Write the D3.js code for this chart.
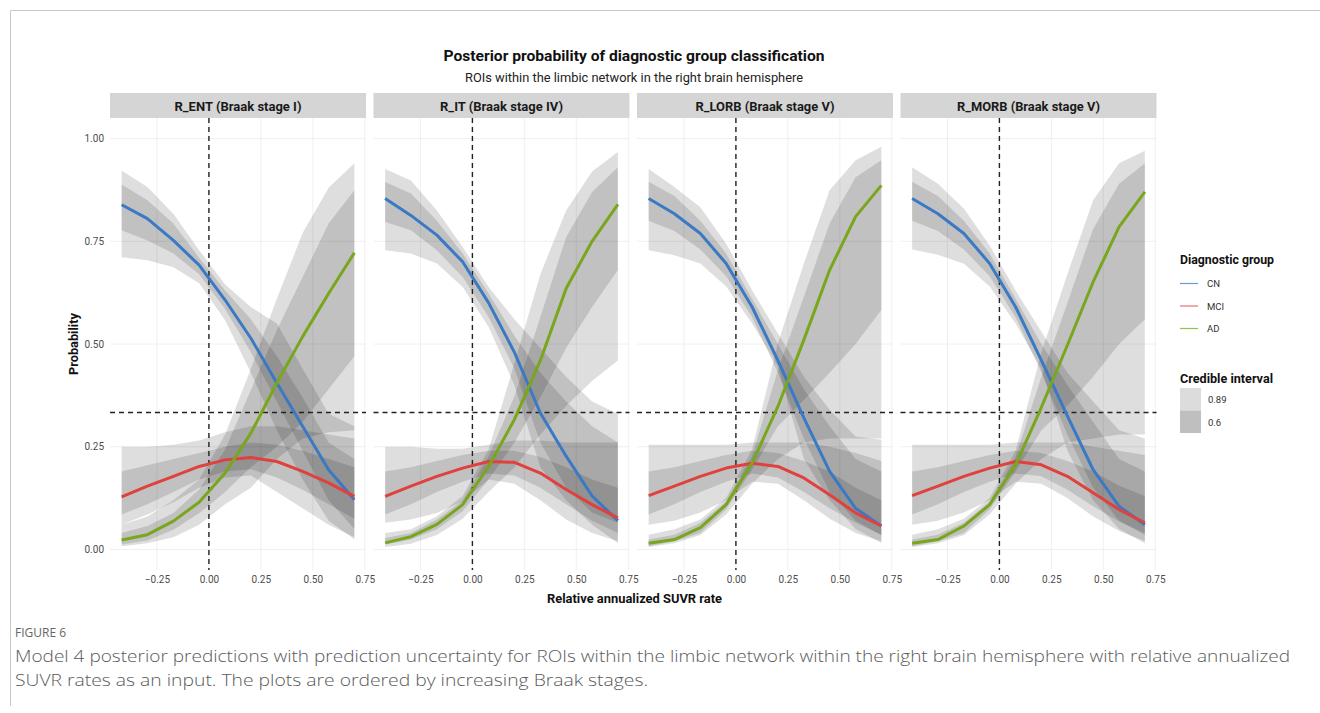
<!DOCTYPE html>
<html>
<head>
<meta charset="utf-8">
<script src="https://cdn.jsdelivr.net/npm/d3@7"></script>
<style>
  html, body { margin: 0; padding: 0; background: #fff; }
  svg { display: block; }
</style>
</head>
<body>
<svg id="chart" width="1320" height="713"></svg>
<script>
// ---------------- DATA ----------------
const xVals = [-0.42, -0.296, -0.171, -0.047, 0.078, 0.202, 0.327, 0.451, 0.576, 0.70];
const panelTitles = ["R_ENT (Braak stage I)", "R_IT (Braak stage IV)", "R_LORB (Braak stage V)", "R_MORB (Braak stage V)"];
const groups = ["CN", "MCI", "AD"];
const ciLevels = ["0.89", "0.6"];
const xTicks = [-0.25, 0, 0.25, 0.5, 0.75];
const yTicks = [0, 0.25, 0.5, 0.75, 1];
const chanceLevel = 1 / 3;
const refX = 0;

// each: [mean, lo89, hi89, lo60, hi60]
const ENT_CN = [
  [0.839, 0.805, 0.752, 0.692, 0.607, 0.514, 0.405, 0.300, 0.194, 0.121],
  [0.711, 0.704, 0.687, 0.648, 0.558, 0.430, 0.290, 0.170, 0.070, 0.025],
  [0.922, 0.882, 0.817, 0.728, 0.645, 0.590, 0.550, 0.440, 0.330, 0.300],
  [0.777, 0.752, 0.720, 0.670, 0.585, 0.480, 0.360, 0.240, 0.120, 0.050],
  [0.888, 0.850, 0.793, 0.710, 0.630, 0.560, 0.470, 0.370, 0.260, 0.220]
];
const ENT_MCI = [
  [0.128, 0.154, 0.178, 0.202, 0.218, 0.224, 0.214, 0.190, 0.162, 0.129],
  [0.060, 0.085, 0.115, 0.150, 0.175, 0.180, 0.140, 0.100, 0.060, 0.030],
  [0.250, 0.250, 0.255, 0.265, 0.285, 0.300, 0.300, 0.290, 0.280, 0.270],
  [0.085, 0.110, 0.140, 0.170, 0.190, 0.195, 0.175, 0.145, 0.110, 0.075],
  [0.190, 0.205, 0.220, 0.235, 0.250, 0.260, 0.255, 0.240, 0.220, 0.200]
];
const ENT_AD = [
  [0.023, 0.036, 0.069, 0.115, 0.186, 0.283, 0.405, 0.518, 0.623, 0.722],
  [0.008, 0.015, 0.030, 0.060, 0.110, 0.150, 0.220, 0.270, 0.285, 0.290],
  [0.060, 0.080, 0.120, 0.170, 0.280, 0.440, 0.610, 0.770, 0.880, 0.940],
  [0.012, 0.022, 0.048, 0.088, 0.140, 0.200, 0.250, 0.310, 0.390, 0.470],
  [0.040, 0.057, 0.089, 0.146, 0.243, 0.388, 0.534, 0.663, 0.793, 0.874]
];

const IT_CN = [
  [0.854, 0.813, 0.765, 0.700, 0.600, 0.480, 0.332, 0.227, 0.130, 0.070],
  [0.728, 0.720, 0.696, 0.639, 0.542, 0.400, 0.200, 0.120, 0.060, 0.016],
  [0.926, 0.898, 0.825, 0.736, 0.639, 0.560, 0.490, 0.420, 0.360, 0.330],
  [0.797, 0.777, 0.728, 0.663, 0.566, 0.440, 0.260, 0.150, 0.090, 0.065],
  [0.894, 0.866, 0.800, 0.720, 0.623, 0.520, 0.430, 0.360, 0.300, 0.260]
];
const IT_MCI = [
  [0.129, 0.154, 0.178, 0.198, 0.214, 0.212, 0.186, 0.146, 0.109, 0.077],
  [0.065, 0.073, 0.089, 0.117, 0.170, 0.160, 0.120, 0.073, 0.040, 0.020],
  [0.250, 0.250, 0.245, 0.245, 0.255, 0.265, 0.265, 0.260, 0.260, 0.260],
  [0.085, 0.110, 0.140, 0.165, 0.185, 0.180, 0.150, 0.110, 0.070, 0.040],
  [0.190, 0.200, 0.215, 0.230, 0.240, 0.240, 0.225, 0.200, 0.170, 0.150]
];
const IT_AD = [
  [0.016, 0.031, 0.061, 0.109, 0.202, 0.316, 0.460, 0.635, 0.750, 0.840],
  [0.006, 0.014, 0.035, 0.075, 0.140, 0.200, 0.280, 0.350, 0.410, 0.460],
  [0.040, 0.049, 0.081, 0.130, 0.243, 0.453, 0.670, 0.825, 0.920, 0.967],
  [0.012, 0.024, 0.049, 0.093, 0.170, 0.260, 0.370, 0.490, 0.590, 0.680],
  [0.028, 0.040, 0.073, 0.120, 0.227, 0.372, 0.566, 0.760, 0.870, 0.930]
];

const LORB_CN = [
  [0.854, 0.817, 0.769, 0.696, 0.590, 0.460, 0.320, 0.190, 0.100, 0.057],
  [0.728, 0.716, 0.696, 0.640, 0.550, 0.445, 0.220, 0.120, 0.050, 0.016],
  [0.926, 0.882, 0.833, 0.744, 0.631, 0.526, 0.420, 0.340, 0.275, 0.267],
  [0.800, 0.775, 0.730, 0.665, 0.565, 0.430, 0.270, 0.140, 0.070, 0.035],
  [0.895, 0.860, 0.800, 0.720, 0.610, 0.500, 0.390, 0.300, 0.220, 0.190]
];
const LORB_MCI = [
  [0.131, 0.154, 0.178, 0.198, 0.210, 0.202, 0.174, 0.133, 0.089, 0.057],
  [0.060, 0.070, 0.090, 0.120, 0.165, 0.160, 0.120, 0.075, 0.040, 0.020],
  [0.255, 0.255, 0.255, 0.255, 0.260, 0.260, 0.260, 0.250, 0.235, 0.215],
  [0.085, 0.110, 0.140, 0.165, 0.185, 0.175, 0.140, 0.100, 0.065, 0.035],
  [0.190, 0.200, 0.215, 0.230, 0.240, 0.235, 0.215, 0.190, 0.150, 0.120]
];
const LORB_AD = [
  [0.015, 0.024, 0.053, 0.109, 0.210, 0.348, 0.510, 0.680, 0.810, 0.886],
  [0.006, 0.015, 0.035, 0.085, 0.160, 0.220, 0.260, 0.270, 0.270, 0.270],
  [0.036, 0.049, 0.073, 0.125, 0.243, 0.502, 0.696, 0.874, 0.947, 0.980],
  [0.008, 0.020, 0.040, 0.097, 0.194, 0.300, 0.364, 0.430, 0.500, 0.583],
  [0.024, 0.036, 0.065, 0.117, 0.227, 0.437, 0.615, 0.793, 0.906, 0.947]
];

const MORB_CN = [
  [0.854, 0.817, 0.769, 0.696, 0.590, 0.460, 0.325, 0.194, 0.105, 0.060],
  [0.730, 0.717, 0.695, 0.640, 0.550, 0.440, 0.240, 0.120, 0.050, 0.015],
  [0.930, 0.890, 0.830, 0.740, 0.630, 0.530, 0.430, 0.360, 0.290, 0.270],
  [0.800, 0.775, 0.730, 0.665, 0.565, 0.430, 0.280, 0.150, 0.070, 0.035],
  [0.895, 0.860, 0.800, 0.720, 0.610, 0.500, 0.400, 0.310, 0.220, 0.190]
];
const MORB_MCI = [
  [0.131, 0.154, 0.178, 0.198, 0.214, 0.206, 0.178, 0.138, 0.097, 0.065],
  [0.060, 0.070, 0.090, 0.120, 0.165, 0.160, 0.125, 0.080, 0.045, 0.020],
  [0.255, 0.255, 0.255, 0.255, 0.260, 0.260, 0.260, 0.250, 0.240, 0.230],
  [0.085, 0.110, 0.140, 0.165, 0.185, 0.178, 0.145, 0.105, 0.068, 0.040],
  [0.190, 0.200, 0.215, 0.230, 0.240, 0.235, 0.215, 0.190, 0.155, 0.130]
];
const MORB_AD = [
  [0.015, 0.024, 0.057, 0.109, 0.206, 0.346, 0.497, 0.651, 0.785, 0.870],
  [0.006, 0.015, 0.035, 0.085, 0.160, 0.220, 0.260, 0.270, 0.280, 0.280],
  [0.036, 0.049, 0.075, 0.125, 0.240, 0.480, 0.670, 0.850, 0.940, 0.970],
  [0.008, 0.020, 0.040, 0.097, 0.190, 0.290, 0.350, 0.420, 0.500, 0.560],
  [0.024, 0.036, 0.065, 0.117, 0.225, 0.420, 0.600, 0.780, 0.890, 0.940]
];

const panelData = [
  [ENT_CN, ENT_MCI, ENT_AD],
  [IT_CN, IT_MCI, IT_AD],
  [LORB_CN, LORB_MCI, LORB_AD],
  [MORB_CN, MORB_MCI, MORB_AD]
];

// ---------------- STYLE / LAYOUT ----------------
const colors = { CN: "#3a79c4", MCI: "#e0413d", AD: "#78a61c" };
const ciFill = { "0.89": 0.13, "0.6": 0.13 };
const font = "Roboto, 'Noto Sans', sans-serif";
const panelX0 = [110, 373.5, 637, 900.5];
const panelW = 256;
const stripTop = 93, stripBottom = 118;
const plotTop = 118, plotBottom = 570;

const svg = d3.select("#chart");

// frame
svg.append("line").attr("x1", 10.5).attr("x2", 1320).attr("y1", 10.5).attr("y2", 10.5)
  .attr("stroke", "#c8c8c8").attr("stroke-width", 1);
svg.append("line").attr("x1", 10.5).attr("x2", 10.5).attr("y1", 10.5).attr("y2", 706)
  .attr("stroke", "#c8c8c8").attr("stroke-width", 1);

// titles
function fitText(sel, w) { return sel.attr("textLength", w).attr("lengthAdjust", "spacingAndGlyphs"); }
fitText(svg.append("text").attr("x", 634).attr("y", 61).attr("text-anchor", "middle")
  .attr("font-family", font).attr("font-weight", "bold").attr("font-size", 15).attr("fill", "#111")
  .text("Posterior probability of diagnostic group classification"), 381);
fitText(svg.append("text").attr("x", 634).attr("y", 81.5).attr("text-anchor", "middle")
  .attr("font-family", font).attr("font-size", 12).attr("fill", "#222")
  .text("ROIs within the limbic network in the right brain hemisphere"), 338);

const y = d3.scaleLinear().domain([-0.05, 1.05]).range([plotBottom, plotTop]);

const stripW = [127, 123, 139, 143];

panelData.forEach((pd, pi) => {
  const x = d3.scaleLinear().domain([-0.476, 0.756]).range([panelX0[pi], panelX0[pi] + panelW]);
  const g = svg.append("g");

  // grid
  g.selectAll(".hg").data(yTicks).join("line")
    .attr("x1", x.range()[0]).attr("x2", x.range()[1])
    .attr("y1", d => y(d)).attr("y2", d => y(d))
    .attr("stroke", "#ececec").attr("stroke-width", 0.8);
  g.selectAll(".vg").data(xTicks).join("line")
    .attr("x1", d => x(d)).attr("x2", d => x(d))
    .attr("y1", plotTop).attr("y2", plotBottom)
    .attr("stroke", "#ececec").attr("stroke-width", 0.8);

  // strip
  g.append("rect").attr("x", x.range()[0]).attr("y", stripTop).attr("width", panelW)
    .attr("height", stripBottom - stripTop).attr("fill", "#d5d5d5");
  fitText(g.append("text").attr("x", x.range()[0] + panelW / 2).attr("y", 110.5)
    .attr("text-anchor", "middle").attr("font-family", font).attr("font-weight", "bold")
    .attr("font-size", 13).attr("fill", "#1a1a1a").text(panelTitles[pi]), stripW[pi]);

  // ribbons
  pd.forEach((s, gi) => {
    const pts = xVals.map((xv, i) => ({ x: xv, m: s[0][i], lo89: s[1][i], hi89: s[2][i], lo60: s[3][i], hi60: s[4][i] }));
    [["lo89", "hi89", "0.89"], ["lo60", "hi60", "0.6"]].forEach(([lo, hi, lvl]) => {
      const area = d3.area().x(d => x(d.x)).y0(d => y(d[lo])).y1(d => y(d[hi]));
      g.append("path").datum(pts).attr("d", area).attr("fill", "#000").attr("fill-opacity", ciFill[lvl]);
    });
  });

  // reference lines
  g.append("line").attr("x1", x.range()[0]).attr("x2", x.range()[1])
    .attr("y1", y(chanceLevel)).attr("y2", y(chanceLevel))
    .attr("stroke", "#222").attr("stroke-width", 1.4).attr("stroke-dasharray", "5,4");
  g.append("line").attr("x1", x(refX)).attr("x2", x(refX))
    .attr("y1", plotTop).attr("y2", plotBottom)
    .attr("stroke", "#222").attr("stroke-width", 1.4).attr("stroke-dasharray", "5,4");

  // lines
  pd.forEach((s, gi) => {
    const pts = xVals.map((xv, i) => ({ x: xv, m: s[0][i] }));
    const line = d3.line().x(d => x(d.x)).y(d => y(d.m));
    g.append("path").datum(pts).attr("d", line).attr("fill", "none")
      .attr("stroke", colors[groups[gi]]).attr("stroke-width", 3).attr("stroke-linejoin", "round");
  });

  // x tick labels
  const xAxis = d3.axisBottom(x).tickValues(xTicks).tickFormat(d3.format(".2f")).tickSize(0).tickPadding(0);
  const ax = g.append("g").attr("transform", `translate(0, ${plotBottom + 6})`).call(xAxis);
  ax.select(".domain").remove();
  ax.selectAll("text").attr("font-family", font).attr("font-size", 10).attr("fill", "#4d4d4d");

  if (pi === 0) {
    const yAxis = d3.axisLeft(y).tickValues(yTicks).tickFormat(d3.format(".2f")).tickSize(0).tickPadding(0);
    const ay = g.append("g").attr("transform", `translate(${x.range()[0] - 6}, 0)`).call(yAxis);
    ay.select(".domain").remove();
    ay.selectAll("text").attr("font-family", font).attr("font-size", 10).attr("fill", "#4d4d4d");
  }
});

// axis titles
fitText(svg.append("text").attr("x", 634.5).attr("y", 603).attr("text-anchor", "middle")
  .attr("font-family", font).attr("font-weight", "bold").attr("font-size", 13).attr("fill", "#111")
  .text("Relative annualized SUVR rate"), 175);
fitText(svg.append("text").attr("transform", "translate(77.5, 344) rotate(-90)").attr("text-anchor", "middle")
  .attr("font-family", font).attr("font-weight", "bold").attr("font-size", 13).attr("fill", "#111")
  .text("Probability"), 62);

// legend
const lg = svg.append("g");
fitText(lg.append("text").attr("x", 1180).attr("y", 264).attr("font-family", font).attr("font-weight", "bold")
  .attr("font-size", 13).attr("fill", "#111").text("Diagnostic group"), 94);
groups.forEach((gname, i) => {
  const yy = 283.5 + i * 22.5;
  lg.append("line").attr("x1", 1180).attr("x2", 1198).attr("y1", yy).attr("y2", yy)
    .attr("stroke", colors[gname]).attr("stroke-width", 1.2).attr("stroke-opacity", 0.75);
  lg.append("text").attr("x", 1207).attr("y", yy + 3.5).attr("font-family", font)
    .attr("font-size", 9.5).attr("fill", "#333").text(gname);
});
fitText(lg.append("text").attr("x", 1180).attr("y", 383).attr("font-family", font).attr("font-weight", "bold")
  .attr("font-size", 13).attr("fill", "#111").text("Credible interval"), 93);
ciLevels.forEach((lvl, i) => {
  const yy = 388 + i * 22.5;
  lg.append("rect").attr("x", 1180).attr("y", yy).attr("width", 21).attr("height", 22.5)
    .attr("fill", i === 0 ? "#dcdcdc" : "#bfbfbf");
  lg.append("text").attr("x", 1208).attr("y", yy + 15).attr("font-family", font)
    .attr("font-size", 9.5).attr("fill", "#333").text(lvl);
});

// caption
const capFont = "'Open Sans', 'Noto Sans', sans-serif";
svg.append("text").attr("x", 15).attr("y", 637).attr("font-family", capFont)
  .attr("font-size", 12).attr("fill", "#666").text("FIGURE 6");
fitText(svg.append("text").attr("x", 15).attr("y", 662).attr("font-family", capFont)
  .attr("font-size", 16).attr("fill", "#5a5a5a").attr("font-weight", 300)
  .text("Model 4 posterior predictions with prediction uncertainty for ROIs within the limbic network within the right brain hemisphere with relative annualized"), 1275);
fitText(svg.append("text").attr("x", 15).attr("y", 686).attr("font-family", capFont)
  .attr("font-size", 16).attr("fill", "#5a5a5a").attr("font-weight", 300)
  .text("SUVR rates as an input. The plots are ordered by increasing Braak stages."), 633);
</script>
</body>
</html>
